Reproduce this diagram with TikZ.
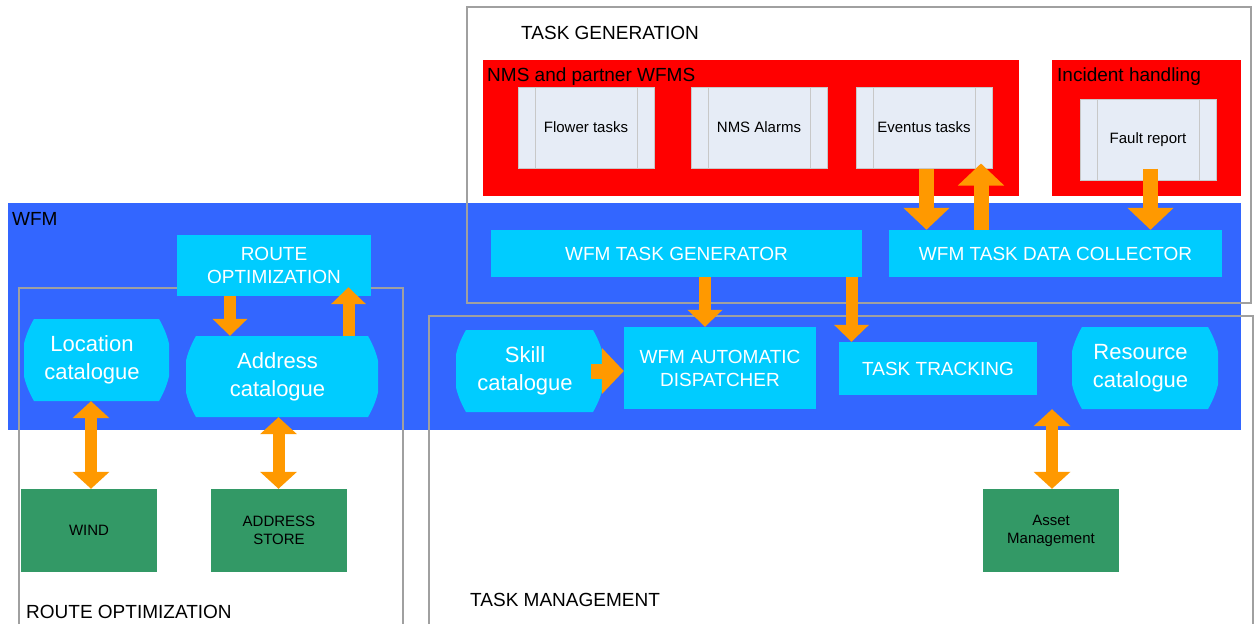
\documentclass[tikz,border=0pt]{standalone}
\usepackage{fontspec}
\setmainfont{Liberation Sans}
\usepackage{tikz}
\usetikzlibrary{arrows.meta}
\usepackage{xcolor}
\definecolor{bandblue}{HTML}{3366FF}
\definecolor{boxcyan}{HTML}{00CCFF}
\definecolor{nmsred}{HTML}{FF0000}
\definecolor{procfill}{HTML}{E6ECF6}
\definecolor{procline}{HTML}{C8C8C8}
\definecolor{storegreen}{HTML}{339966}
\definecolor{pipeorange}{HTML}{FF9900}
\definecolor{framegray}{HTML}{A0A0A0}

\begin{document}
\begin{tikzpicture}[x=1pt,y=-1pt]
\tikzstyle{area}=[rectangle,inner sep=0,outer sep=0]
\tikzstyle{lbl}=[anchor=base west,inner sep=0,font=\fontsize{19}{23}\selectfont]
\tikzstyle{sys}=[rectangle,fill=boxcyan,text=white,align=center,inner sep=0,font=\fontsize{19}{23}\selectfont]
\tikzstyle{cat}=[rectangle,fill=bandblue,text=white,align=center,inner sep=0,font=\fontsize{22}{28}\selectfont,
  path picture={\fill[boxcyan]([xshift=10]path picture bounding box.north west)--([xshift=-10]path picture bounding box.north east)
    to[bend left=30]([xshift=-10]path picture bounding box.south east)--([xshift=10]path picture bounding box.south west)
    to[bend left=30]cycle;}]
\tikzstyle{proc}=[rectangle,fill=procfill,draw=procline,line width=1,minimum width=136,minimum height=81,font=\fontsize{15}{18}\selectfont,
  path picture={\draw[procline,line width=1]([xshift=17]path picture bounding box.north west)--([xshift=17]path picture bounding box.south west)
    ([xshift=-17]path picture bounding box.north east)--([xshift=-17]path picture bounding box.south east);}]
\tikzstyle{store}=[rectangle,fill=storegreen,minimum width=136,minimum height=83,align=center,font=\fontsize{15}{18}\selectfont]
\tikzstyle{frame}=[draw=framegray,line width=2]
\tikzstyle{pipe}=[draw=pipeorange,line width=12,-{Triangle[length=17pt,width=34pt]}]
\tikzstyle{bigpipe}=[draw=pipeorange,line width=15,-{Triangle[length=22pt,width=45pt]}]
\tikzstyle{duct}=[draw=pipeorange,line width=12,{Triangle[length=17pt,width=36pt]}-{Triangle[length=17pt,width=36pt]}]
\useasboundingbox(0,0)rectangle(1256,624);
% areas
\node(wfm)at(624.5,316.5)[area,fill=bandblue,minimum width=1233,minimum height=227]{};
\node(nms)at(751,128)[area,fill=nmsred,minimum width=536,minimum height=136]{};
\node(incident)at(1146.5,128)[area,fill=nmsred,minimum width=189,minimum height=136]{};
\node(tg-lbl)at(521,39)[lbl]{TASK GENERATION};
\node(nms-lbl)at(487,81)[lbl]{NMS and partner WFMS};
\node(inc-lbl)at(1057,81)[lbl]{Incident handling};
\node(wfm-lbl)at(12,225)[lbl]{WFM};
\node(ro-lbl)at(26,618)[lbl]{ROUTE OPTIMIZATION};
\node(tm-lbl)at(470,606)[lbl]{TASK MANAGEMENT};
% task sources
\node(flower)at(586,127.5)[proc]{Flower tasks};
\node(alarms)at(759,127.5)[proc]{NMS Alarms};
\node(eventus)at(924,127.5)[proc]{Eventus tasks};
\node(fault)at(1148,139.5)[proc]{Fault report};
% frames
\draw[frame](467,7)rectangle(1251,303);
\draw[frame](19,624)|-(403,288)--(403,624);
\draw[frame](429,624)|-(1253,316)--(1253,624);
% wfm modules
\node(routeopt)at(274,265.5)[sys,minimum width=194,minimum height=61]{ROUTE\\OPTIMIZATION};
\node(taskgen)at(676.5,253.5)[sys,minimum width=371,minimum height=47]{WFM TASK GENERATOR};
\node(collector)at(1055.5,253.5)[sys,minimum width=333,minimum height=47]{WFM TASK DATA COLLECTOR};
\node(dispatcher)at(720,368)[sys,minimum width=192,minimum height=82]{WFM AUTOMATIC\\DISPATCHER};
\node(tracking)at(938,368.5)[sys,minimum width=198,minimum height=53]{TASK TRACKING};
\node(loccat)at(96.5,360)[cat,minimum width=145,minimum height=82]{Location\hspace*{9pt}\\catalogue\hspace*{9pt}};
\node(addrcat)at(282,376.5)[cat,minimum width=192,minimum height=81]{Address\hspace*{9pt}\\catalogue\hspace*{9pt}};
\node(skillcat)at(529.5,371)[cat,minimum width=147,minimum height=82]{Skill\hspace*{9pt}\\catalogue\hspace*{9pt}};
\node(rescat)at(1145,368)[cat,minimum width=146,minimum height=82]{Resource\hspace*{9pt}\\catalogue\hspace*{9pt}};
% stores
\node(wind)at(89,530.5)[store]{WIND};
\node(addrstore)at(279,530.5)[store]{ADDRESS\\STORE};
\node(asset)at(1051,530.5)[store]{Asset\\Management};
% flows
\draw[pipe]([xshift=-44]routeopt.south)--([xshift=-52]addrcat.north);
\draw[pipe,shorten >=-9]([xshift=66.5]addrcat.north)--([xshift=74.5]routeopt.south);
\draw[duct]([xshift=-5.5]loccat.south)--([xshift=2]wind.north);
\draw[duct]([xshift=-3.5]addrcat.south)--([xshift=-0.5]addrstore.north);
\draw[bigpipe]([xshift=-12]skillcat.east)--(dispatcher.west|-skillcat.east);
\draw[pipe]([xshift=28.5]taskgen.south)--([xshift=-15]dispatcher.north);
\draw[pipe]([xshift=175]taskgen.south)--([xshift=-86.5]tracking.north);
\draw[bigpipe]([xshift=2.5]eventus.south)--([xshift=-129]collector.north);
\draw[bigpipe,shorten >=-5]([xshift=-74.5]collector.north)--([xshift=57]eventus.south);
\draw[bigpipe,shorten <=-12]([xshift=2.5]fault.south)--([xshift=95]collector.north);
\draw[duct]([xshift=-93]rescat.south)--([xshift=1]asset.north);
\end{tikzpicture}
\end{document}
